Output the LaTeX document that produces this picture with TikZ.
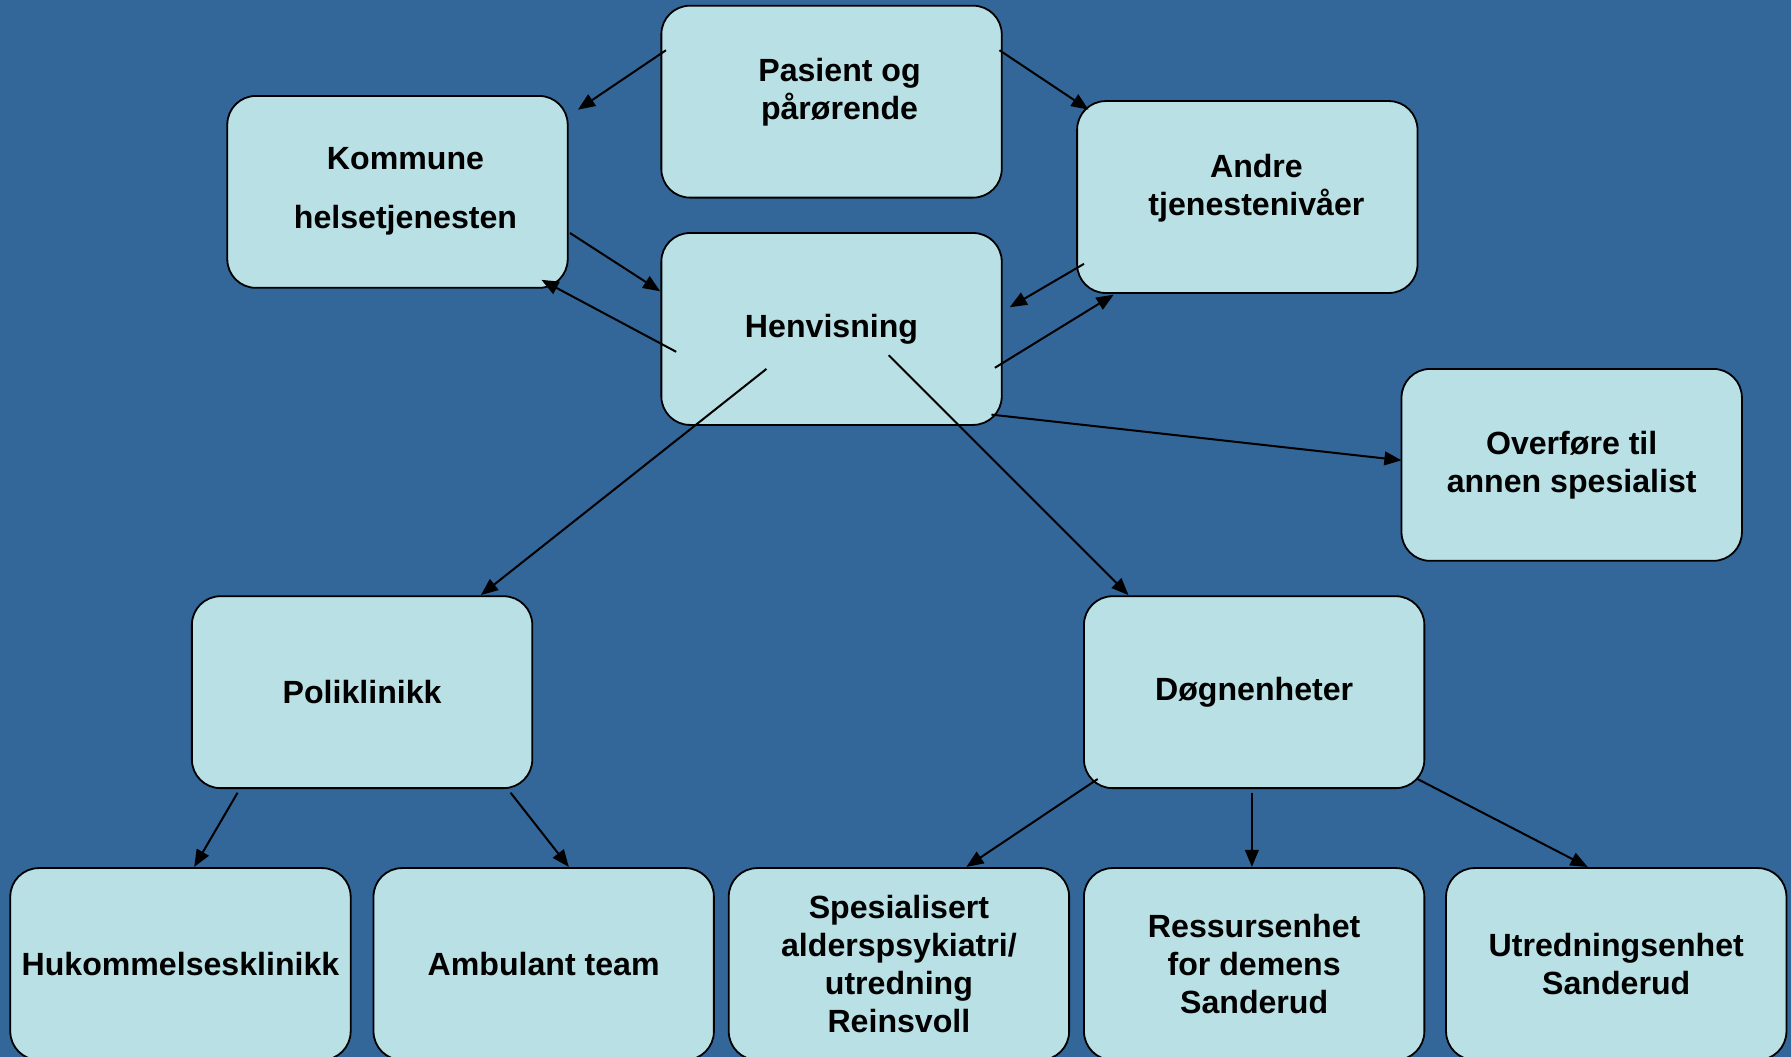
\documentclass[tikz,border=0pt]{standalone}
\usepackage{fontspec}
\setmainfont{Liberation Sans}
\usetikzlibrary{calc, arrows.meta}
\definecolor{bgblue}{RGB}{51,102,153}
\definecolor{boxfill}{RGB}{185,224,228}

\begin{document}
\begin{tikzpicture}[x=0.2mm,y=-0.2mm,>={Triangle[length=3mm,width=2.4mm]},
  txt/.style={align=center,inner sep=0pt,font=\fontsize{16}{19}\selectfont\bfseries},
  box/.style={txt,draw,line width=0.9pt,fill=boxfill,rounded corners=5mm,
    minimum width=59.6mm,minimum height=33.6mm},
  arr/.style={->,line width=1pt}]
\useasboundingbox (0,0) rectangle (1568,925);
\fill[bgblue] (0,0) rectangle (1568,925);

% top part
\node[box,label={[txt,xshift=1.4mm,yshift=1.6mm]center:{Pasient og\\pårørende}}] (pas) at (728,89) {};
\node[box,label={[txt,xshift=1.4mm,yshift=0.1mm]center:{Kommune\\[3.5mm]helsetjenesten}}] (kom) at (348,168) {};
\node[box,label={[txt,xshift=1.6mm,yshift=1.6mm]center:{Andre\\tjenestenivåer}}] (andre) at (1092,172.5) {};
\node[box] (henv) at (728,288) {Henvisning};
\node[box] (over) at (1376,407) {Overføre til\\annen spesialist};

% middle
\node[box] (poli) at (317,606) {Poliklinikk};
\node[box] (dogn) at (1098,606) {Døgnenheter};

% bottom row
\node[box] (huk) at (158,844) {Hukommelsesklinikk};
\node[box] (amb) at (476,844) {Ambulant team};
\node[box] (spes) at (787,844) {Spesialisert\\alderspsykiatri/\\utredning\\Reinsvoll};
\node[box] (ress) at (1098,844) {Ressursenhet\\for demens\\Sanderud};
\node[box] (utr) at (1415,844) {Utredningsenhet\\Sanderud};

\draw[arr] ($(pas)+(-145,-45)$)--($(kom)+(158,-72)$);
\draw[arr] ($(pas)+(147,-45)$)--($(andre)+(-139,-76.5)$);
\draw[arr] ($(kom)+(151,36)$)--($(henv)+(-150,-33)$);
\draw[arr] ($(henv)+(-136,20)$)--($(kom)+(126,77)$);
\draw[arr] ($(andre)+(-143,58.5)$)--($(henv)+(156,-19)$);
\draw[arr] ($(henv)+(143,34)$)--($(andre)+(-117,85.5)$);
\draw[arr] ($(henv)+(-57,35)$)--($(poli)+(104,-85)$);
\draw[arr] ($(henv)+(50,23)$)--($(dogn)+(-110,-85)$);
\draw[arr] ($(henv)+(140,75)$)--($(over)+(-149,-4)$);

\draw[arr] ($(poli)+(-109,88)$)--($(huk)+(12,-85)$);
\draw[arr] ($(poli)+(130,88)$)--($(amb)+(22,-85)$);
\draw[arr] ($(dogn)+(-137,76)$)--($(spes)+(59,-85)$);
\draw[arr] ($(dogn)+(-2,88)$)--($(ress)+(-2,-85)$);
\draw[arr] ($(dogn)+(143,76)$)--($(utr)+(-25,-85)$);

\end{tikzpicture}
\end{document}
